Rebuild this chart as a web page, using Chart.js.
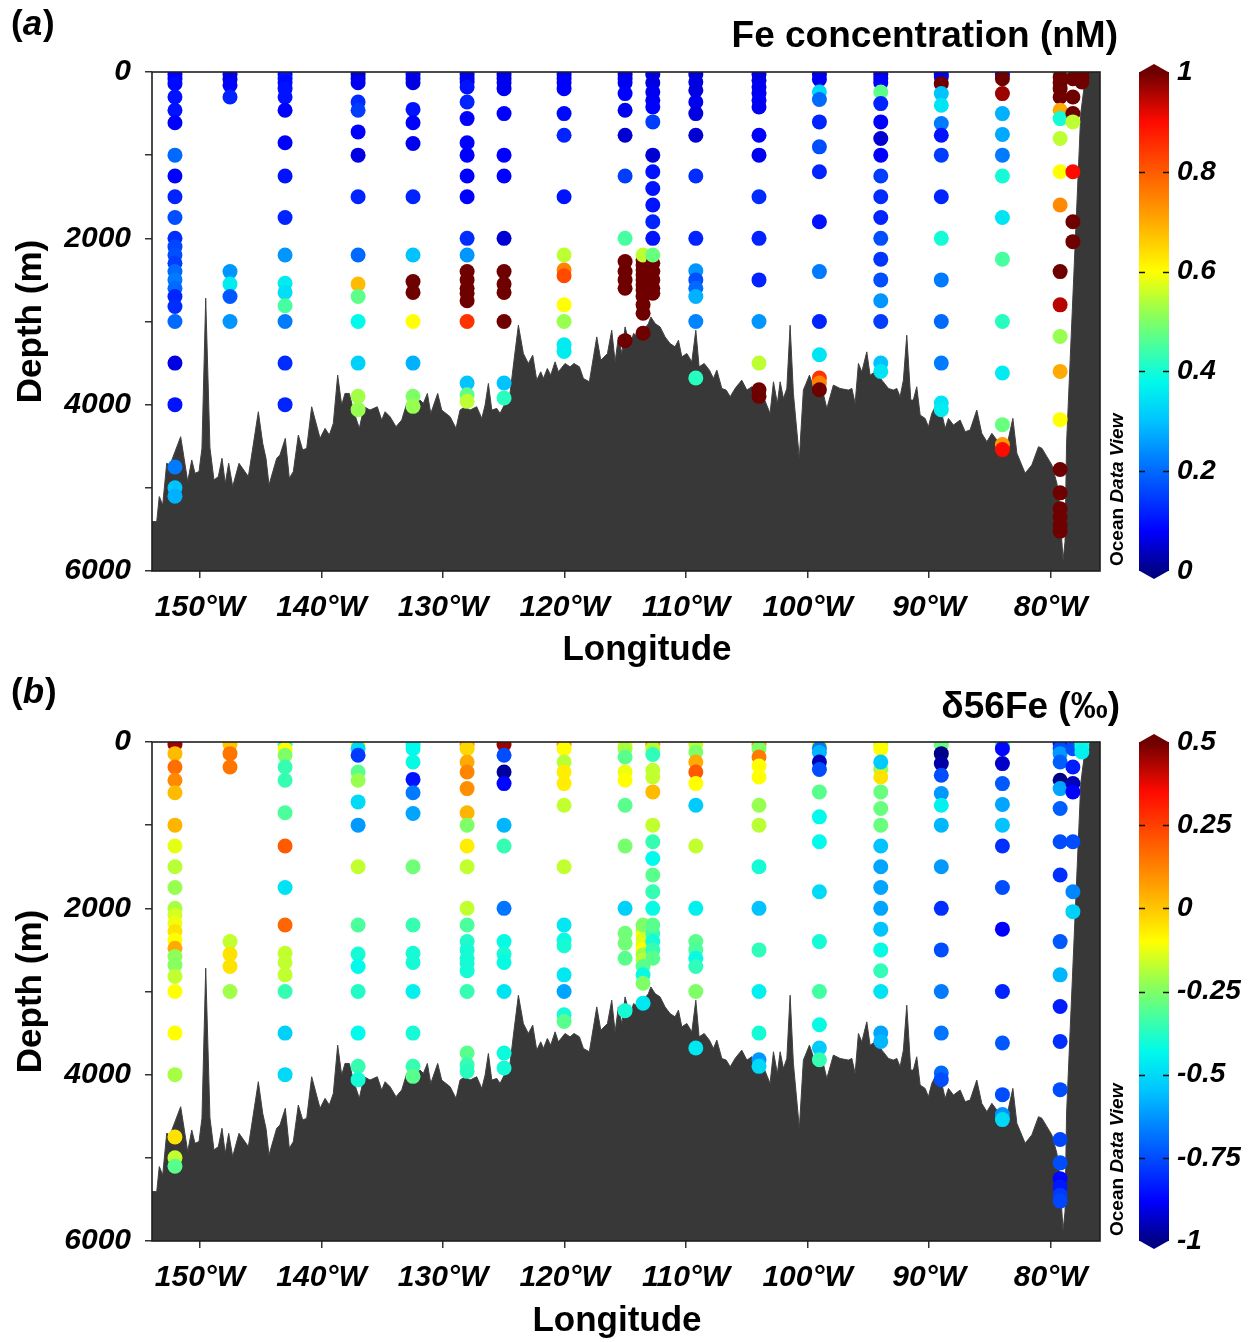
<!DOCTYPE html>
<html><head><meta charset="utf-8">
<script src="https://cdn.jsdelivr.net/npm/chart.js@4.4.1/dist/chart.umd.min.js"></script>
<style>
html,body{margin:0;padding:0;background:#fff;}
.panel{position:relative;width:1257px;height:671px;}
canvas{display:block;}
</style></head><body>
<div class="panel"><canvas id="ca" width="1257" height="671"></canvas></div>
<div class="panel"><canvas id="cb" width="1257" height="671"></canvas></div>
<script>
// ---------------- DATA ----------------
const stationLon = [-152.06,-147.53,-143.0,-136.99,-132.47,-128.02,-124.98,-120.04,-115.02,-113.54,-112.74,-109.2,-104.0,-99.03,-93.98,-89.0,-83.97,-79.22,-78.17,-77.43];

const feDepth = [
 [30,80,140,300,460,610,1000,1250,1500,1750,2000,2100,2200,2300,2400,2500,2600,2700,2820,3000,3500,4000,4750,5000,5100],
 [30,90,160,300,2400,2550,2700,3000],
 [30,80,130,200,300,460,850,1250,1750,2200,2540,2650,2810,3000,3500,4000],
 [30,80,130,360,460,720,1000,1500,2200,2550,2700,3000,3500,3900,4060],
 [30,80,130,450,610,860,1500,2200,2520,2650,3000,3500,3900,4020],
 [30,80,120,180,360,560,850,1000,1250,1500,2000,2200,2400,2500,2600,2660,2750,3000,3740,3880,3960],
 [30,80,130,200,500,1000,1250,2000,2400,2550,2650,3000,3740,3920],
 [30,80,130,200,500,760,1500,2200,2380,2450,2800,3000,3280,3360],
 [30,80,130,260,460,760,1250,2000,2280,2400,2500,2600,3230],
 [2260,2320,2380,2440,2500,2560,2620,2700,2800,2900,3140,2200],
 [30,130,240,340,420,600,1000,1200,1400,1600,1800,2000,2300,2400,2500,2600,2660,2200],
 [30,120,220,360,500,760,1250,2000,2390,2500,2600,2700,3000,3680],
 [30,100,180,260,340,420,760,1000,1500,2000,2500,3000,3500,3820,3900],
 [30,90,240,330,600,900,1200,1800,2400,3000,3400,3680,3740,3820],
 [30,80,130,240,380,600,800,1000,1250,1500,1750,2000,2250,2500,2750,3000,3500,3600],
 [30,60,140,260,400,620,760,1000,1500,2000,2500,3000,3500,3980,4060],
 [30,80,260,500,750,1000,1250,1750,2250,3000,3620,4240,4480,4540],
 [20,60,130,200,300,460,560,800,1200,1600,2400,2800,3180,3600,4180,4780,5060,5250,5350,5450,5520],
 [80,300,500,600,1200,1800,2040],
 [20,60,120]
];
const feValue = [
 [0.07,0.08,0.09,0.1,0.1,0.08,0.2,0.08,0.12,0.17,0.13,0.16,0.17,0.15,0.2,0.22,0.2,0.12,0.13,0.2,0.06,0.1,0.22,0.3,0.28],
 [0.07,0.06,0.08,0.12,0.25,0.36,0.18,0.25],
 [0.08,0.1,0.09,0.1,0.1,0.08,0.08,0.1,0.12,0.25,0.36,0.34,0.45,0.22,0.13,0.12],
 [0.05,0.05,0.07,0.13,0.15,0.08,0.06,0.12,0.2,0.68,0.47,0.38,0.32,0.53,0.52],
 [0.07,0.07,0.06,0.1,0.08,0.07,0.12,0.3,1.2,1.2,0.6,0.28,0.5,0.52],
 [0.06,0.06,0.07,0.1,0.12,0.08,0.08,0.08,0.08,0.08,0.13,0.25,1.2,1.2,1.2,1.2,1.2,0.85,0.3,0.47,0.55],
 [0.06,0.06,0.07,0.07,0.08,0.08,0.08,0.05,1.2,1.2,1.2,1.2,0.3,0.42],
 [0.07,0.07,0.08,0.08,0.09,0.12,0.1,0.55,0.75,0.82,0.6,0.52,0.36,0.36],
 [0.05,0.06,0.07,0.08,0.07,0.05,0.15,0.45,1.2,1.2,1.2,1.2,1.2],
 [1.2,1.2,1.2,1.2,1.2,1.2,1.2,1.2,1.2,1.2,1.2,0.55],
 [0.06,0.06,0.07,0.07,0.08,0.15,0.05,0.1,0.1,0.1,0.12,0.1,1.2,1.2,1.2,1.2,1.2,0.48],
 [0.05,0.06,0.06,0.07,0.06,0.05,0.13,0.12,0.25,0.17,0.2,0.28,0.23,0.42],
 [0.05,0.06,0.07,0.07,0.08,0.07,0.08,0.07,0.13,0.12,0.12,0.25,0.55,1.2,1.2],
 [0.05,0.07,0.33,0.2,0.12,0.17,0.12,0.1,0.22,0.12,0.35,0.85,0.75,1.2],
 [0.05,0.06,0.08,0.47,0.12,0.08,0.05,0.08,0.15,0.13,0.12,0.17,0.14,0.17,0.25,0.15,0.3,0.35],
 [0.07,0.07,1.2,0.3,0.35,0.22,0.1,0.15,0.12,0.4,0.22,0.2,0.22,0.35,0.36],
 [0.07,1.2,0.97,0.28,0.27,0.22,0.4,0.35,0.45,0.42,0.36,0.48,0.72,0.9],
 [0.4,1.2,1.2,1.2,1.2,0.7,0.4,0.55,0.6,0.74,1.2,0.95,0.52,0.7,0.6,1.2,1.2,1.2,1.2,1.2,1.2],
 [1.2,1.2,1.2,0.55,0.9,1.2,1.2],
 [1.2,1.2,1.2]
];

const d56Depth = [
 [30,140,300,460,610,1000,1250,1500,1750,2000,2080,2180,2280,2380,2480,2580,2680,2820,3000,3500,4000,4750,5000,5100],
 [30,140,300,2400,2550,2700,3000],
 [30,90,160,300,460,850,1250,1750,2200,2540,2650,2800,3000,3500,4000],
 [30,75,160,360,460,720,1000,1500,2200,2550,2700,3000,3500,3900,4060],
 [30,80,240,450,610,860,1500,2200,2540,2650,3000,3500,3900,4020],
 [30,80,240,360,560,850,1000,1250,1500,2000,2200,2400,2500,2600,2660,2750,3000,3740,3880,3960],
 [30,160,360,500,1000,1250,2000,2400,2550,2650,3000,3740,3920],
 [30,80,240,360,500,760,1500,2200,2380,2450,2800,3000,3280,3360],
 [30,80,180,360,460,760,1250,2000,2300,2420,2600,3230],
 [2260,2320,2380,2440,2500,2560,2620,2700,2800,2900,3140,2200],
 [30,80,150,340,420,600,1000,1200,1400,1600,1800,2000,2300,2400,2500,2600,2200],
 [30,120,240,360,500,760,1250,2000,2400,2500,2600,2700,3000,3680],
 [30,80,180,290,420,760,1000,1500,2000,2500,3000,3500,3820,3900],
 [30,75,125,240,330,600,900,1200,1800,2400,3000,3400,3680,3820],
 [30,80,330,420,240,600,800,1000,1250,1500,1750,2000,2250,2500,2750,3000,3500,3600],
 [30,140,260,400,620,760,1000,1500,2000,2500,3000,3500,3980,4060],
 [30,80,260,500,750,1000,1250,1750,2250,3000,3620,4240,4480,4540],
 [20,80,140,240,460,560,800,1200,1600,2400,2800,3180,3600,4180,4780,5060,5250,5350,5450,5520],
 [80,300,500,600,1200,1800,2040],
 [20,60,120]
];
const d56Value = [
 [0.45,0.02,0.16,0.11,0.02,0.03,-0.13,-0.18,-0.22,-0.2,-0.15,-0.12,-0.05,-0.1,0.05,-0.23,-0.24,-0.17,-0.1,-0.1,-0.2,-0.05,-0.17,-0.3],
 [0.0,0.15,0.15,-0.17,-0.05,-0.05,-0.21],
 [-0.35,-0.1,-0.25,-0.35,-0.35,-0.32,0.2,-0.48,0.18,-0.17,-0.17,-0.17,-0.35,-0.52,-0.5],
 [-0.1,-0.5,-0.78,-0.3,-0.22,-0.5,-0.62,-0.17,-0.32,-0.4,-0.43,-0.38,-0.43,-0.35,-0.4],
 [-0.42,-0.43,-0.42,-0.85,-0.67,-0.6,-0.27,-0.35,-0.4,-0.4,-0.45,-0.4,-0.35,-0.3],
 [0.1,-0.03,0.05,0.12,0.1,0.03,-0.25,-0.07,-0.17,-0.17,-0.32,-0.38,-0.4,-0.4,-0.4,-0.4,-0.35,-0.3,-0.35,-0.37],
 [0.45,-0.75,-0.98,-0.87,-0.57,-0.35,-0.68,-0.42,-0.4,-0.42,-0.48,-0.41,-0.4],
 [0.1,-0.1,-0.18,-0.07,-0.07,-0.17,-0.17,-0.47,-0.42,-0.4,-0.47,-0.6,-0.4,-0.3],
 [-0.1,-0.2,-0.3,-0.12,-0.1,-0.3,-0.26,-0.52,-0.27,-0.27,-0.3,-0.4],
 [-0.2,-0.1,-0.15,-0.13,-0.1,-0.22,-0.18,-0.3,-0.42,-0.25,-0.47,-0.25],
 [0.08,-0.18,-0.36,-0.17,-0.17,0.02,-0.17,-0.35,-0.43,-0.3,-0.35,-0.42,-0.35,-0.4,-0.35,-0.3,-0.3],
 [-0.17,-0.25,0.05,0.2,-0.1,-0.53,-0.17,-0.45,-0.3,-0.32,-0.42,-0.36,-0.25,-0.47],
 [0.08,-0.25,0.14,-0.1,-0.1,-0.22,-0.18,-0.4,-0.55,-0.36,-0.45,-0.4,-0.62,-0.5],
 [-0.1,-0.67,-0.57,-0.95,-0.75,-0.3,-0.43,-0.43,-0.5,-0.4,-0.33,-0.42,-0.53,-0.35],
 [-0.17,-0.1,-0.22,-0.05,-0.53,-0.28,-0.28,-0.28,-0.55,-0.6,-0.6,-0.6,-0.55,-0.42,-0.36,-0.48,-0.6,-0.57],
 [-0.28,-1.0,-0.97,-0.75,-0.62,-0.45,-0.57,-0.62,-0.8,-0.75,-0.67,-0.68,-0.7,-0.75],
 [-0.3,-0.87,-0.93,-0.73,-0.6,-0.55,-0.8,-0.75,-0.88,-0.82,-0.73,-0.75,-0.63,-0.5],
 [-0.87,-0.75,-0.62,-0.72,-1.0,-0.6,-0.72,-0.75,-0.8,-0.73,-0.57,-0.83,-0.8,-0.75,-0.76,-0.75,-0.87,-0.84,-0.78,-0.76],
 [-0.75,-0.83,-0.95,-0.88,-0.75,-0.65,-0.52],
 [-0.3,-0.42,-0.45]
];

// seafloor section (longitude, depth m)
const bathyLon = [-154,-153.56,-153.35,-153.07,-152.74,-152.47,-151.59,-151.01,-150.68,-150.41,-150.08,-149.84,-149.53,-149.18,-148.85,-148.49,-148.19,-147.92,-147.64,-147.31,-146.79,-146.02,-145.2,-144.84,-144.57,-144.32,-143.69,-143.42,-142.98,-142.65,-142.32,-141.91,-141.55,-141.22,-140.81,-140.12,-139.71,-139.36,-139.03,-138.67,-138.34,-138.07,-137.71,-137.38,-136.89,-136.5,-136.01,-135.41,-135.05,-134.77,-134.36,-133.87,-133.4,-132.99,-132.45,-131.89,-131.62,-131.29,-131.01,-130.44,-130.11,-129.42,-128.93,-128.6,-128.19,-127.78,-127.23,-126.81,-126.54,-126.27,-125.99,-125.58,-125.31,-124.49,-124.16,-123.8,-123.39,-122.98,-122.62,-122.29,-121.96,-121.74,-121.42,-121.14,-120.78,-120.51,-119.96,-119.55,-119.22,-118.78,-118.45,-117.96,-117.35,-117.02,-116.47,-116.12,-115.84,-115.57,-115.29,-115.02,-114.61,-114.33,-113.92,-113.51,-113.1,-112.9,-112.55,-112.14,-111.73,-111.32,-110.91,-110.63,-110.35,-109.94,-109.53,-109.2,-108.93,-108.51,-108.08,-107.75,-107.47,-107.06,-106.7,-106.37,-105.97,-105.42,-105.0,-104.59,-104.18,-103.64,-103.09,-102.81,-102.49,-102.26,-101.99,-101.71,-101.44,-101.17,-100.68,-100.35,-99.85,-99.52,-98.97,-98.42,-97.88,-97.33,-96.64,-96.36,-96.09,-95.82,-95.54,-95.13,-94.86,-94.44,-93.89,-93.35,-92.94,-92.66,-92.39,-92.12,-91.84,-91.51,-91.3,-91.02,-90.74,-90.33,-90.06,-89.78,-89.37,-88.96,-88.68,-88.41,-88.0,-87.45,-87.04,-86.63,-86.08,-85.67,-85.25,-84.84,-84.43,-83.74,-83.47,-83.11,-82.78,-82.1,-81.55,-81.0,-80.72,-80.31,-79.9,-79.49,-79.3,-79.12,-78.98,-78.82,-78.69,-77.52,-77.09,-75.9];
const bathyDepth = [5405,5405,5105,5205,4705,4725,4385,4925,4665,4825,4805,4525,2720,4520,4905,4865,4645,4945,4705,4985,4705,4865,4085,4465,4645,4965,4645,4605,4405,4885,4805,4365,4545,4525,4025,4405,4285,4365,4225,3645,4005,3865,3865,4065,4285,4025,4065,4025,4185,4085,4145,4265,4185,3985,4025,3945,3985,3865,4105,3865,4065,4145,4285,4065,4025,4065,4025,4165,4005,3745,4065,4045,4105,3865,3465,3045,3385,3505,3405,3705,3605,3685,3565,3645,3485,3605,3505,3545,3505,3545,3685,3725,3185,3465,3385,3105,3485,3185,3385,3065,3305,3145,3185,3105,3025,2945,3025,3065,3185,3265,3305,3225,3425,3385,3485,3105,3545,3505,3585,3685,3585,3805,3825,3905,3805,3705,3825,3785,3865,3905,4105,3725,3985,3725,3925,3805,3045,3865,4645,3825,3645,3785,3705,4045,3765,3805,3825,3805,3985,3505,3605,3365,3645,3605,3705,3805,3825,3805,3905,3705,3165,3945,3945,3785,4125,4165,4265,4105,3985,4105,4285,4165,4245,4185,4325,4305,4065,4345,4445,4345,4425,4505,4405,4165,4585,4825,4725,4505,4525,4625,4725,4945,5150,5550,5870,5650,4460,493,0,0];

const xTickVals = [-150,-140,-130,-120,-110,-100,-90,-80];
const xTickLabels = ['150°W','140°W','130°W','120°W','110°W','100°W','90°W','80°W'];
const depthTicks = [0,1000,2000,3000,4000,5000,6000];
const depthLabels = ['0','','2000','','4000','','6000'];
const cbTicksA = [0,0.2,0.4,0.6,0.8,1];
const cbLabelsA = ['0','0.2','0.4','0.6','0.8','1'];
const cbTicksB = [-1,-0.75,-0.5,-0.25,0,0.25,0.5];
const cbLabelsB = ['-1','-0.75','-0.5','-0.25','0','0.25','0.5'];

// ---------------- STYLE ----------------
const FONT = '"Liberation Sans", Arial, Helvetica, sans-serif';
const X_MIN = -153.95, X_MAX = -75.94;
const cmapStops = [[0,[0,0,135]],[0.08,[0,0,255]],[0.2,[0,105,255]],[0.3,[0,195,255]],[0.38,[0,250,235]],[0.45,[70,255,160]],[0.52,[150,255,80]],[0.6,[255,255,0]],[0.7,[255,170,0]],[0.8,[255,90,0]],[0.9,[255,10,0]],[1,[110,0,0]]];
function rgb(c){return `rgb(${Math.round(c[0])},${Math.round(c[1])},${Math.round(c[2])})`;}
function cmap(t){
  t = Math.max(0, Math.min(1, t));
  for (let i=1;i<cmapStops.length;i++){
    const [t1,c1]=cmapStops[i]; const [t0,c0]=cmapStops[i-1];
    if (t<=t1){ const f=(t-t0)/(t1-t0); return rgb([0,1,2].map(k=>c0[k]+(c1[k]-c0[k])*f)); }
  }
  return rgb(cmapStops[cmapStops.length-1][1]);
}

const decor = {
  id:'decor',
  afterDatasetsDraw(chart){
    const {ctx, chartArea:a} = chart;
    ctx.save();
    ctx.strokeStyle='#1e1e1e'; ctx.lineWidth=1.6;
    ctx.strokeRect(a.left, a.top, a.right-a.left, a.bottom-a.top);
    ctx.restore();
  },
  afterDraw(chart, args, o){
    const ctx = chart.ctx;
    const s = chart.scales.cb;
    const yTop = s.getPixelForValue(s.max), yBot = s.getPixelForValue(s.min);
    const x0 = 1139, x1 = 1169, xm = (x0+x1)/2;
    ctx.save();
    const g = ctx.createLinearGradient(0, yBot, 0, yTop);
    cmapStops.forEach(([t,c])=>g.addColorStop(t, rgb(c)));
    ctx.fillStyle = g;
    ctx.fillRect(x0, yTop, x1-x0, yBot-yTop);
    ctx.fillStyle = rgb(cmapStops[cmapStops.length-1][1]);
    ctx.beginPath(); ctx.moveTo(x0,yTop+0.5); ctx.lineTo(xm,yTop-8); ctx.lineTo(x1,yTop+0.5); ctx.closePath(); ctx.fill();
    ctx.fillStyle = rgb(cmapStops[0][1]);
    ctx.beginPath(); ctx.moveTo(x0,yBot-0.5); ctx.lineTo(xm,yBot+8); ctx.lineTo(x1,yBot-0.5); ctx.closePath(); ctx.fill();
    ctx.strokeStyle='#111'; ctx.lineWidth=1.5;
    s.ticks.forEach((t,i)=>{
      if (i===0 || i===s.ticks.length-1) return;
      const y = Math.round(s.getPixelForValue(t.value))+0.5;
      ctx.beginPath(); ctx.moveTo(x0,y); ctx.lineTo(x0+6,y); ctx.moveTo(x1-6,y); ctx.lineTo(x1,y); ctx.stroke();
    });
    // texts
    ctx.fillStyle='#000';
    ctx.textBaseline='middle';
    ctx.font = `bold 35px ${FONT}`;
    ctx.textAlign='center';
    ctx.fillText('Longitude', o.xTitleX, 650);
    ctx.save();
    ctx.translate(31, (chart.chartArea.top+chart.chartArea.bottom)/2);
    ctx.rotate(-Math.PI/2);
    ctx.fillText('Depth (m)', 0, 0);
    ctx.restore();
    ctx.textAlign='right';
    ctx.font = `bold 37px ${FONT}`;
    ctx.fillText(o.title, o.titleRight, 37);
    // panel letter
    ctx.textAlign='left';
    let x = 11;
    const py = o.letterY;
    ctx.font = `bold 35px ${FONT}`; ctx.fillText('(', x, py); x += ctx.measureText('(').width;
    ctx.font = `italic bold 35px ${FONT}`; ctx.fillText(o.letter, x, py); x += ctx.measureText(o.letter).width + 1;
    ctx.font = `bold 35px ${FONT}`; ctx.fillText(')', x, py);
    // ODV credit
    ctx.save();
    ctx.translate(1118, chart.chartArea.bottom - 5);
    ctx.rotate(-Math.PI/2);
    ctx.textAlign='left';
    ctx.font = `bold 19px ${FONT}`;
    ctx.fillText('Ocean ', 0, 0);
    const w = ctx.measureText('Ocean ').width;
    ctx.font = `italic bold 19px ${FONT}`;
    ctx.fillText('Data View', w, 0);
    ctx.restore();
    ctx.restore();
  }
};

function makeChart(id, cfg){
  const pts=[], cols=[];
  stationLon.forEach((lon,i)=>{
    cfg.depth[i].forEach((d,j)=>{
      pts.push({x:lon, y:d});
      cols.push(cmap((cfg.value[i][j]-cfg.vmin)/(cfg.vmax-cfg.vmin)));
    });
  });
  const bathy = bathyLon.map((x,i)=>({x, y:bathyDepth[i]}));
  const tickFont = {family:FONT, size:30, weight:'bold', style:'italic'};
  const gridOpt = {drawOnChartArea:false, drawTicks:true, tickLength:7, color:'#333', lineWidth:1.5};
  return new Chart(document.getElementById(id), {
    type:'scatter',
    data:{datasets:[
      {type:'scatter', data:pts, pointBackgroundColor:cols, pointBorderWidth:0, pointBorderColor:'rgba(0,0,0,0)', pointRadius:7.5, pointHoverRadius:7.5, order:0},
      {type:'line', data:bathy, showLine:true, borderColor:'#404040', borderWidth:1, backgroundColor:'#383838', fill:{value:6000}, pointRadius:0, tension:0, order:1}
    ]},
    options:{
      responsive:false, animation:false, devicePixelRatio:1,
      layout:{padding:{top:cfg.top, left:0, right:0, bottom:0}},
      events:[],
      plugins:{legend:{display:false}, tooltip:{enabled:false}, decor:cfg.decor},
      scales:{
        x:{type:'linear', position:'bottom', min:X_MIN, max:X_MAX,
          afterBuildTicks:s=>{s.ticks = xTickVals.map(v=>({value:v}));},
          afterFit:s=>{s.height = cfg.xh;},
          grid:gridOpt, border:{display:false},
          ticks:{callback:(v,i)=>xTickLabels[i], font:tickFont, color:'#000', padding:12, maxRotation:0, autoSkip:false}},
        y:{type:'linear', position:'left', min:0, max:6000, reverse:true,
          afterBuildTicks:s=>{s.ticks = depthTicks.map(v=>({value:v}));},
          afterFit:s=>{s.width = 152;},
          grid:gridOpt, border:{display:false},
          ticks:{callback:(v,i)=>depthLabels[i], font:tickFont, color:'#000', padding:14, autoSkip:false}},
        cb:{type:'linear', axis:'y', position:'right', min:cfg.vmin, max:cfg.vmax, display:true,
          afterBuildTicks:s=>{s.ticks = cfg.cbTicks.map(v=>({value:v}));},
          afterFit:s=>{s.width = 157;},
          grid:{display:true, drawOnChartArea:false, drawTicks:true, tickLength:70, color:'rgba(0,0,0,0)'}, border:{display:false},
          ticks:{callback:(v,i)=>cfg.cbLabels[i], font:{family:FONT, size:28, weight:'bold', style:'italic'}, color:'#000', padding:7, autoSkip:false}}
      }
    },
    plugins:[decor]
  });
}

makeChart('ca', {depth:feDepth, value:feValue, vmin:0, vmax:1, top:72, xh:100, cbTicks:cbTicksA, cbLabels:cbLabelsA,
  decor:{title:'Fe concentration (nM)', titleRight:1118, letter:'a', letterY:25, xTitleX:647}});
makeChart('cb', {depth:d56Depth, value:d56Value, vmin:-1, vmax:0.5, top:71, xh:101, cbTicks:cbTicksB, cbLabels:cbLabelsB,
  decor:{title:'δ56Fe (‰)', titleRight:1120, letter:'b', letterY:22, xTitleX:617}});
</script>
</body></html>
